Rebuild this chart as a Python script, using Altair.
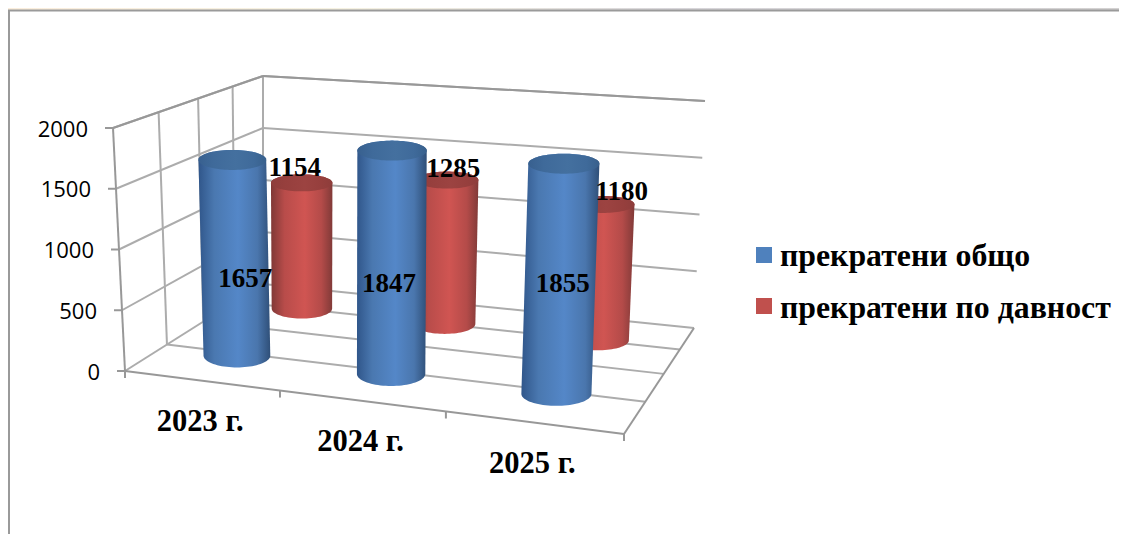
import altair as alt
import numpy as np
import pandas as pd

# ---- data
categories = ["2023 г.", "2024 г.", "2025 г."]
series_names = ["прекратени общо", "прекратени по давност"]
total_values = [1657, 1847, 1855]
lapsed_values = [1154, 1285, 1180]
value_ticks = [0, 500, 1000, 1500, 2000]

# ---- styling / layout
W, H = 1111, 526
OX, OY = 8, 8
# corners of the 3D box: (u, v, w) -> page pixels
C = {
    (0, 0, 0): (125, 371), (1, 0, 0): (624, 434), (0, 1, 0): (113, 128), (1, 1, 0): (636, 173),
    (0, 0, 1): (263, 284), (1, 0, 1): (694, 328), (0, 1, 1): (263, 76), (1, 1, 1): (705, 101),
}
BLUE = dict(w=0.28, du=0.50, rx=(33.5, 36), ry_top=10, ry_bot=12,
            stops=["#30568a", "#4a78b0", "#5487c8", "#4a76ad", "#2f4f78"],
            cap=["#38608f", "#3f6a9a", "#44709f", "#3f6a9a", "#38608c"])
RED = dict(w=0.80, du=0.49, rx=(30.5, 32), ry_top=8.5, ry_bot=10,
           stops=["#7f3836", "#b84c4a", "#d05552", "#b44b49", "#813a38"],
           cap=["#8e3d3b", "#963f3d", "#9c4341", "#963f3d", "#8e3d3b"])
SERIF = "Liberation Serif"
SANS = "Open Sans"
STOPS = [0, 0.22, 0.55, 0.82, 1]


def warp_u(u):
    return u / (u + 1.11 * (1 - u))


def warp_w(w):
    return w / (w + 0.763 * (1 - w))


def project(u, value, w):
    """category position u (0..3), value, depth fraction w (0..1)"""
    a = warp_u(u / 3)
    b = value / 2000
    c = w
    pt = np.zeros(2)
    for i in (0, 1):
        for j in (0, 1):
            for k in (0, 1):
                weight = (a if i else 1 - a) * (b if j else 1 - b) * (c if k else 1 - c)
                pt += weight * np.array(C[(i, j, k)], dtype=float)
    return pt


xs = alt.Scale(domain=[OX, OX + W], range=[0, W])
ys = alt.Scale(domain=[OY + H, OY], range=[H, 0])
X = alt.X("x:Q", scale=xs, axis=None)
Y = alt.Y("y:Q", scale=ys, axis=None)


def rules(segments, color, width):
    df = pd.DataFrame([
        {"x": a[0], "y": a[1], "x2": b[0], "y2": b[1]} for a, b in segments
    ])
    return alt.Chart(df).mark_rule(color=color, strokeWidth=width).encode(
        x=X, y=Y, x2="x2:Q", y2="y2:Q")


def texts(rows, font, size, weight, align="center"):
    df = pd.DataFrame(rows, columns=["x", "y", "t"])
    return alt.Chart(df).mark_text(font=font, fontSize=size, fontWeight=weight, color="#000000",
                                   align=align, baseline="middle").encode(x=X, y=Y, text="t:N")


def ellipse_rows(cx, cy, rx, ry):
    th = np.linspace(0, np.pi, 41)
    yy = cy - ry * np.cos(th)
    half = rx * np.sin(th)
    return pd.DataFrame({"y": yy, "x": cx - half, "x2": cx + half})


def body_rows(top, bot, rx_top, rx_bot, ry_top, ry_bot):
    th = np.linspace(0, np.pi / 2, 21)
    upper = pd.DataFrame({"y": top[1] - ry_top * np.cos(th),
                          "x": top[0] - rx_top * np.sin(th),
                          "x2": top[0] + rx_top * np.sin(th)})
    lower = pd.DataFrame({"y": bot[1] + ry_bot * np.sin(th),
                          "x": bot[0] - rx_bot * np.cos(th),
                          "x2": bot[0] + rx_bot * np.cos(th)})
    return pd.concat([upper, lower], ignore_index=True)


def grad(cols):
    return alt.Gradient(gradient="linear", x1=0, x2=1, y1=0, y2=0, stops=[
        alt.GradientStop(offset=o, color=c) for o, c in zip(STOPS, cols)
    ])


def area(df, cols):
    return alt.Chart(df).mark_area(orient="horizontal", color=grad(cols)).encode(
        y=Y, x=alt.X("x:Q", scale=xs, axis=None), x2="x2:Q")


def cylinder(i, value, st):
    u = i + st["du"]
    bot = project(u, 0, st["w"])
    top = project(u, value, st["w"])
    t = warp_u(u / 3)
    rx_top = st["rx"][0] + (st["rx"][1] - st["rx"][0]) * t
    rx_bot = rx_top - 0.5
    return [
        area(body_rows(top, bot, rx_top, rx_bot, st["ry_top"], st["ry_bot"]), st["stops"]),
        area(ellipse_rows(top[0], top[1], rx_top, st["ry_top"]), st["cap"]),
    ], top, bot


layers = []

# frame of the surrounding slide
band = pd.DataFrame({"x": [OX], "x2": [OX + W], "y": [OY], "y2": [10]})
layers.append(alt.Chart(band).mark_rect(color=alt.Gradient(
    gradient="linear", x1=0, x2=1, y1=0, y2=0,
    stops=[alt.GradientStop(offset=0, color="#fbeedd"),
           alt.GradientStop(offset=0.3, color="#f6f2e2"),
           alt.GradientStop(offset=0.6, color="#d8d6da"),
           alt.GradientStop(offset=1, color="#d4d2d2")])).encode(x=X, y=Y, x2="x2:Q", y2="y2:Q"))
layers.append(rules([((OX, 10.5), (OX + W, 10.5)), ((9, 10), (9, OY + H))], "#9a9a9a", 2))

# walls and floor
depths = [warp_w(d) for d in (0, 0.25, 0.5, 0.75, 1)]
wall = []
for v in value_ticks:                         # left wall and back wall horizontals
    wall.append((project(0, v, 0), project(0, v, 1)))
    wall.append((project(0, v, 1), project(3, v, 1)))
for d in depths[1:]:                          # left wall verticals
    wall.append((project(0, 0, d), project(0, 2000, d)))
for d in depths[1:-1]:                        # floor cross lines
    wall.append((project(0, 0, d), project(3, 0, d)))
layers.append(rules(wall, "#acacac", 2))
edges = [(project(0, 2000, 0), project(0, 2000, 1)),
         (project(0, 2000, 1), project(3, 2000, 1)),
         (project(0, 0, 0), project(0, 2000, 0)),
         (project(0, 0, 0), project(3, 0, 0)),
         (project(3, 0, 0), project(3, 0, 1))]
layers.append(rules(edges, "#989898", 2))

# ticks
ticks = []
for v in value_ticks:
    p = project(0, v, 0)
    ticks.append((p - np.array([8, 0]), p))
for i in range(4):
    p = project(i, 0, 0)
    ticks.append((p, p + np.array([0, 7])))
layers.append(rules(ticks, "#989898", 2))

# cylinders: red row behind, blue row in front
tops = {}
for name, vals, st in (("r", lapsed_values, RED), ("b", total_values, BLUE)):
    for i, v in enumerate(vals):
        parts, top, bot = cylinder(i, v, st)
        layers += parts
        tops[(name, i)] = (top, bot)

# value labels, placed relative to their cylinder
BLUE_OFF = [(13, 119), (-3, 133), (-1, 120)]
RED_OFF = [(-7, -15), (6, -11), (19, -12)]
rows = []
for i, v in enumerate(lapsed_values):
    top = tops[("r", i)][0]
    rows.append((top[0] + RED_OFF[i][0], top[1] + RED_OFF[i][1], str(v)))
for i, v in enumerate(total_values):
    top = tops[("b", i)][0]
    rows.append((top[0] + BLUE_OFF[i][0], top[1] + BLUE_OFF[i][1], str(v)))
layers.append(texts(rows, SERIF, 27, "bold"))

# axis labels
rows = [(project(0, v, 0)[0] - 25, project(0, v, 0)[1] + 1.5, str(v)) for v in value_ticks]
df = pd.DataFrame(rows, columns=["x", "y", "t"])
layers.append(alt.Chart(df).mark_text(font=SANS, fontSize=22, color="#000000", align="right",
                                      baseline="middle").encode(x=X, y=Y, text="t:N"))
rows = []
for i, c in enumerate(categories):
    p = project(i + 0.5, 0, 0)
    rows.append((p[0] - 1, p[1] + 41, c))
layers.append(texts(rows, SERIF, 30.5, "bold"))

# legend
leg = pd.DataFrame({"x": [756, 756], "x2": [772, 772], "y": [247, 298], "y2": [263, 314],
                    "s": series_names})
layers.append(alt.Chart(leg).mark_rect().encode(
    x=X, y=Y, x2="x2:Q", y2="y2:Q",
    color=alt.Color("s:N", legend=None, scale=alt.Scale(domain=series_names, range=["#4f81bd", "#c0504d"]))))
layers.append(texts([(780, 256, series_names[0]), (780, 308, series_names[1])], SERIF, 31.8, "bold", "left"))

chart = alt.layer(*layers).properties(
    width=W, height=H, padding=0, autosize=alt.AutoSizeParams(type="none"), background="#ffffff"
).configure_view(stroke=None)

chart.save("out.html", embed_options={"renderer": "svg", "actions": False})
